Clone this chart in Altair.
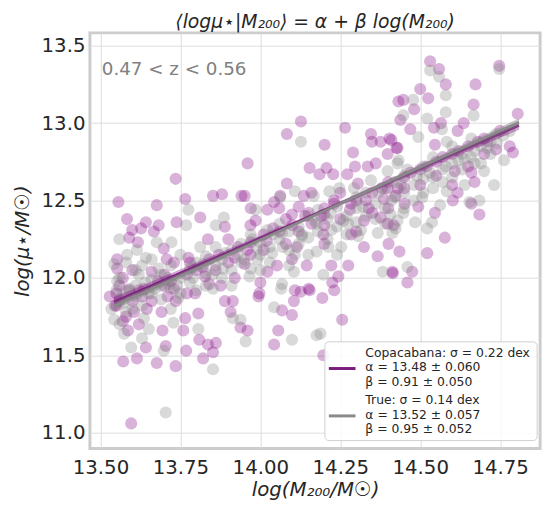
import altair as alt
import pandas as pd

# ---- scatter data ----
copa_pts = [
(13.556,12.49),(13.583,12.38),(13.596,11.06),(13.571,11.46),(13.614,11.48),(13.676,11.45),(13.735,11.43),(13.642,11.55),(13.704,11.56),(13.768,11.53),
(13.809,11.60),(13.821,11.48),(13.852,11.52),(13.836,11.57),(13.861,11.58),(13.759,11.66),(13.694,11.66),(13.586,11.66),(13.907,11.78),(13.938,11.68),
(13.994,11.88),(14.068,11.79),(14.099,11.76),(14.105,11.85),(14.126,11.91),(14.154,11.92),(14.194,11.87),(14.231,11.92),(14.256,11.73),(14.056,11.66),
(14.043,11.57),(14.197,11.50),(13.960,11.66),(14.685,12.41),(14.577,12.26),(14.522,12.16),(14.435,12.17),(14.414,12.03),(14.460,11.97),(14.475,12.04),
(14.401,12.22),(14.602,12.50),(14.660,12.48),(14.531,13.40),(14.559,13.35),(14.747,13.37),(14.580,13.25),(14.673,13.25),(14.500,13.22),(14.525,13.16),
(14.432,13.14),(14.447,13.15),(14.481,13.09),(14.667,13.12),(14.805,13.06),(14.636,13.00),(14.565,13.00),(14.438,13.02),(14.469,12.96),(14.543,12.97),
(14.617,12.95),(14.737,12.83),(14.790,12.81),(14.710,12.88),(14.410,12.89),(14.429,12.84),(14.546,12.86),(14.608,12.69),(14.660,12.68),(14.670,12.62),
(14.617,12.55),(14.546,12.42),(14.494,12.46),(14.451,12.48),(14.423,12.53),(14.398,12.58),(14.083,12.93),(14.201,12.86),(14.265,12.97),(14.127,13.01),
(13.960,12.74),(14.154,12.71),(14.207,12.71),(14.290,12.81),(14.296,12.72),(14.346,12.93),(14.349,12.88),(14.376,12.88),(14.404,12.90),(14.426,12.84),
(14.398,12.80),(14.361,12.74),(14.336,12.72),(14.185,12.67),(14.228,12.67),(14.272,12.67),(14.305,12.61),(14.083,12.61),(14.136,12.53),(14.062,12.53),
(14.043,12.49),(14.022,12.44),(13.951,12.53),(13.985,12.37),(13.969,12.34),(14.059,12.45),(14.099,12.41),(14.151,12.42),(14.200,12.41),(14.231,12.48),
(14.284,12.48),(14.339,12.45),(14.386,12.51),(14.417,12.34),(14.324,12.37),(14.376,12.39),(14.398,12.35),(14.284,12.28),(14.324,12.20),(14.367,12.14),
(14.413,12.04),(14.200,12.34),(14.197,12.28),(14.114,12.20),(14.099,12.12),(14.145,12.08),(14.222,12.08),(14.244,12.01),(14.275,12.08),(14.052,12.08),
(14.022,12.04),(14.000,11.97),(13.997,11.90),(13.969,12.15),(13.951,12.09),(14.108,11.92),(14.151,11.93),(14.225,11.97),(13.735,12.64),(13.676,12.47),
(13.765,12.51),(13.852,12.53),(13.880,12.54),(13.941,12.53),(13.642,12.36),(13.627,12.32),(13.599,12.31),(13.682,12.34),(13.667,12.30),(13.617,12.23),
(13.590,12.26),(13.738,12.36),(13.812,12.39),(13.836,12.25),(13.889,12.33),(13.698,12.19),(13.707,12.12),(13.775,12.13),(13.827,12.01),(13.876,11.95),
(13.920,12.00),(13.914,11.85),(13.889,11.85),(13.691,11.78),(13.645,11.80),(13.605,11.78),(13.580,11.75),(13.735,11.85),(13.765,11.74),(13.806,11.77),
(13.796,11.90),(13.710,11.88),(13.552,12.12),(13.552,12.06),(13.559,11.95),(13.529,11.88),(13.545,11.82),(13.636,11.93),
(13.55,11.90),(13.55,11.82),(13.57,12.00),(13.57,11.72),(13.60,11.85),(13.60,12.05),(13.62,11.92),(13.62,11.70),(13.66,12.04),(13.66,11.85),
(13.70,11.95),(13.70,12.02),(13.73,12.10),(13.73,11.93),(13.77,12.02),(13.77,11.90),(13.80,12.05),(13.84,12.12),(13.84,11.96),(13.87,12.15),
(13.90,12.10),(13.90,12.25),(13.93,12.20),(13.97,12.23),(13.97,12.45),(14.01,12.28),(14.01,12.18),(14.04,12.32),(14.08,12.38),(14.08,12.22),
(14.12,12.30),(14.12,12.46),(14.16,12.35),(14.16,12.55),(14.20,12.45),(14.20,12.22),(14.25,12.38),(14.25,12.55),(14.30,12.50),(14.30,12.30),
(14.35,12.55),(14.35,12.42),(14.40,12.62),(14.40,12.45),(14.45,12.65),(14.45,12.58),(14.50,12.70),(14.50,12.60),(14.55,12.75),(14.55,12.66),
(14.60,12.80),(14.60,12.60),(14.65,12.85),(14.65,12.72),(14.70,12.90),(14.70,12.80),(14.75,12.95),(14.78,12.85),
(13.56,11.86),(13.59,11.92),(13.63,11.88),(13.68,11.98),(13.72,11.98),(13.78,12.10),(13.82,12.07),(13.86,12.05),(13.92,12.13),(13.96,12.18),
(14.02,12.24),(14.06,12.30),(14.10,12.34),(14.14,12.40),(14.19,12.40),(14.23,12.50),(14.28,12.44),(14.33,12.50),(14.38,12.58),(14.43,12.58),
(14.47,12.68),(14.52,12.72),(14.57,12.78),(14.62,12.82),(14.68,12.88),
]

true_pts = [
(13.704,11.13),(13.852,11.41),(13.596,11.55),(13.574,11.64),(13.630,11.61),(13.651,11.67),(13.698,11.53),(13.938,11.73),(13.954,11.59),(14.043,11.81),
(14.099,11.60),(14.188,11.64),(14.065,11.93),(14.176,11.63),(14.460,12.07),(14.522,12.32),(14.531,13.34),(14.559,13.30),(14.580,13.18),(14.667,13.05),
(14.747,13.35),(14.580,13.07),(14.522,13.03),(14.447,13.05),(14.478,13.15),(14.494,12.91),(14.568,12.96),(14.583,12.88),(14.670,12.74),(14.639,12.77),
(14.540,12.65),(14.583,12.56),(14.506,12.52),(14.460,12.70),(14.432,12.76),(14.685,12.50),(14.737,12.93),(14.127,12.88),(13.985,12.44),(14.062,12.52),
(14.108,12.56),(14.167,12.53),(14.216,12.56),(14.247,12.58),(14.293,12.58),(14.346,12.63),(14.398,12.69),(14.429,12.74),(14.068,12.29),(14.022,12.31),
(13.975,12.25),(14.130,12.27),(14.176,12.35),(14.222,12.31),(14.275,12.35),(14.315,12.31),(14.367,12.29),(14.413,12.29),(14.429,12.37),(14.037,12.16),
(13.991,12.12),(14.108,12.15),(14.176,12.17),(14.213,12.20),(14.253,12.20),(14.306,12.27),(14.105,12.04),(14.197,12.02),(14.068,11.96),(14.383,12.04),
(13.966,12.01),(13.559,12.25),(13.775,12.44),(13.768,12.34),(13.886,12.39),(13.642,12.13),(13.614,12.18),(13.676,12.23),(13.722,12.23),(13.812,12.20),
(13.861,12.34),(13.543,12.09),(13.552,11.98),(13.565,11.87),(13.590,11.93),(13.620,12.02),(13.651,11.90),(13.583,12.15),(13.682,12.06),(13.713,11.96),
(13.744,11.87),(13.790,12.00),(13.821,12.09),(13.852,11.93),(13.883,12.06),(13.929,12.15),(13.914,11.74),(13.806,11.67),(13.728,11.71),(13.636,11.74),
(13.543,11.73),(13.534,11.80),(14.407,12.41),(14.447,12.42),(14.423,12.32),(14.484,12.36),(14.562,12.47),(14.537,12.36),(14.654,12.49),(14.700,12.69),
(14.731,12.60),(14.639,12.60),(14.762,12.76),
(13.56,11.85),(13.56,12.00),(13.56,11.70),(13.58,11.92),(13.58,12.10),(13.58,11.78),(13.61,11.88),(13.61,11.95),(13.61,12.05),(13.63,11.82),
(13.63,12.08),(13.66,11.90),(13.66,11.99),(13.66,12.12),(13.69,11.86),(13.69,12.02),(13.69,11.95),(13.72,11.93),(13.72,12.08),(13.72,11.80),
(13.75,12.00),(13.75,11.90),(13.75,12.15),(13.78,11.97),(13.78,12.06),(13.80,12.10),(13.80,11.92),(13.83,12.03),(13.83,12.14),(13.83,11.95),
(13.86,12.08),(13.86,12.20),(13.88,12.00),(13.88,12.12),(13.91,12.18),(13.91,12.05),(13.91,11.95),(13.94,12.10),(13.94,12.22),(13.97,12.06),
(13.97,12.28),(14.00,12.15),(14.00,12.23),(14.00,12.05),(14.03,12.20),(14.03,12.10),(14.06,12.25),(14.06,12.35),(14.09,12.18),(14.09,12.30),
(14.09,12.08),(14.12,12.33),(14.12,12.22),(14.15,12.26),(14.15,12.40),(14.15,12.15),(14.18,12.30),(14.18,12.44),(14.21,12.38),(14.21,12.25),
(14.24,12.33),(14.24,12.46),(14.24,12.15),(14.27,12.40),(14.27,12.28),(14.30,12.45),(14.30,12.36),(14.30,12.52),(14.33,12.40),(14.33,12.55),
(14.36,12.48),(14.36,12.38),(14.39,12.45),(14.39,12.58),(14.39,12.35),(14.42,12.52),(14.42,12.62),(14.45,12.55),(14.45,12.45),(14.45,12.66),
(14.48,12.60),(14.48,12.50),(14.51,12.64),(14.51,12.72),(14.51,12.55),(14.54,12.58),(14.54,12.78),(14.57,12.70),(14.57,12.62),(14.60,12.74),
(14.60,12.85),(14.60,12.65),(14.63,12.80),(14.63,12.70),(14.66,12.78),(14.66,12.90),(14.69,12.85),(14.69,12.74),(14.72,12.88),(14.72,12.80),
(14.76,12.92),
(13.55,11.92),(13.57,11.84),(13.60,11.80),(13.64,11.97),(13.67,11.93),(13.71,12.00),(13.74,11.95),(13.79,12.07),(13.85,12.02),(13.89,12.16),
(13.95,12.12),(13.99,12.19),(14.04,12.28),(14.07,12.20),(14.13,12.28),(14.17,12.37),(14.22,12.42),(14.26,12.37),(14.32,12.46),(14.37,12.55),
(14.41,12.50),(14.44,12.60),(14.49,12.66),(14.53,12.68),(14.58,12.72),(14.62,12.76),(14.67,12.82),(14.71,12.84),(14.74,12.87),(14.78,12.95),
]

# ---- fitted relations and their bands ----
fit_x = [13.543, 14.176, 14.809]
copa_fit = [11.845, 12.415, 12.985]
copa_lo = [11.815, 12.403, 12.957]
copa_hi = [11.875, 12.427, 13.013]
true_fit = [11.820, 12.410, 13.005]
true_lo = [11.795, 12.400, 12.980]
true_hi = [11.845, 12.420, 13.030]

x_ticks = [13.5, 13.75, 14.0, 14.25, 14.5, 14.75]
y_ticks = [11.0, 11.5, 12.0, 12.5, 13.0, 13.5]

legend_copa = ["Copacabana: σ = 0.22 dex", "α = 13.48 ± 0.060", "β = 0.91 ± 0.050"]
legend_true = ["True: σ = 0.14 dex", "α = 13.52 ± 0.057", "β = 0.95 ± 0.052"]

PURPLE = "#800080"
LINE_PURPLE = "#7a1c7c"
GRAY = "#808080"
LINE_GRAY = "#8a8a8a"
FONT = "DejaVu Sans"

copa_df = pd.DataFrame(copa_pts, columns=["x", "y"])
true_df = pd.DataFrame(true_pts, columns=["x", "y"])
fit_df = pd.DataFrame({"x": fit_x, "copa": copa_fit, "copa_lo": copa_lo, "copa_hi": copa_hi,
                       "true": true_fit, "true_lo": true_lo, "true_hi": true_hi})

xs = alt.Scale(domain=[13.467, 14.875], nice=False, zero=False)
ys = alt.Scale(domain=[10.898, 13.583], nice=False, zero=False)

X = alt.X("x:Q", scale=xs, axis=alt.Axis(values=x_ticks, format=".2f", title="log(M₂₀₀/M☉)"))
Y = alt.Y("y:Q", scale=ys, axis=alt.Axis(values=y_ticks, format=".1f", title="log(μ⋆/M☉)"))

copa_sc = alt.Chart(copa_df).mark_circle(size=150, opacity=0.3, color=PURPLE).encode(x=X, y=Y)
true_sc = alt.Chart(true_df).mark_circle(size=150, opacity=0.3, color=GRAY).encode(x=X, y=Y)

fx = alt.X("x:Q", scale=xs)
copa_band = alt.Chart(fit_df).mark_area(color=PURPLE, opacity=0.35).encode(
    x=fx, y=alt.Y("copa_lo:Q", scale=ys), y2="copa_hi:Q")
copa_line = alt.Chart(fit_df).mark_line(color=LINE_PURPLE, strokeWidth=2.5).encode(
    x=fx, y=alt.Y("copa:Q", scale=ys))
true_band = alt.Chart(fit_df).mark_area(color=GRAY, opacity=0.45).encode(
    x=fx, y=alt.Y("true_lo:Q", scale=ys), y2="true_hi:Q")
true_line = alt.Chart(fit_df).mark_line(color=LINE_GRAY, strokeWidth=2.5).encode(
    x=fx, y=alt.Y("true:Q", scale=ys))

one = alt.Data(values=[{"k": 0}])

zlabel = alt.Chart(one).mark_text(align="left", baseline="alphabetic", fontSize=18.5,
                                  font=FONT, color="#808080").encode(
    x=alt.value(12), y=alt.value(43), text=alt.value("0.47 < z < 0.56"))

box = alt.Chart(one).mark_rect(fill="white", fillOpacity=0.85, stroke="#cfcfcf",
                               strokeWidth=1, cornerRadius=4).encode(
    x=alt.value(238), x2=alt.value(453), y=alt.value(313), y2=alt.value(413))
leg_l1 = alt.Chart(one).mark_rule(color=LINE_PURPLE, strokeWidth=3).encode(
    x=alt.value(242), x2=alt.value(269), y=alt.value(340))
leg_l2 = alt.Chart(one).mark_rule(color=LINE_GRAY, strokeWidth=3).encode(
    x=alt.value(242), x2=alt.value(269), y=alt.value(388))
leg_t1 = alt.Chart(one).mark_text(align="left", baseline="alphabetic", fontSize=12.5,
                                  lineHeight=14.8, font=FONT, color="#262626").encode(
    x=alt.value(279), y=alt.value(328), text=alt.value(legend_copa))
leg_t2 = alt.Chart(one).mark_text(align="left", baseline="alphabetic", fontSize=12.5,
                                  lineHeight=14.8, font=FONT, color="#262626").encode(
    x=alt.value(279), y=alt.value(376), text=alt.value(legend_true))

chart = alt.layer(
    copa_sc, true_sc, copa_band, copa_line, true_band, true_line,
    zlabel, box, leg_l1, leg_l2, leg_t1, leg_t2,
).properties(
    width=456, height=421,
    title=alt.TitleParams("⟨logμ⋆|M₂₀₀⟩ = α + β log(M₂₀₀)", font=FONT, fontSize=19,
                          fontStyle="italic", fontWeight="normal", color="#262626",
                          anchor="middle", offset=1),
    autosize=alt.AutoSizeParams(type="none"),
    padding={"left": 83, "top": 22, "right": 8, "bottom": 50},
).configure_view(
    stroke="#cccccc", strokeWidth=3
).configure_axis(
    domain=False, ticks=False, grid=True, gridColor="#dcdcdc", gridWidth=1,
    labelFont=FONT, labelFontSize=20, labelColor="#262626",
    titleFont=FONT, titleFontSize=20, titleFontStyle="italic", titleFontWeight="normal",
    titleColor="#262626",
).configure_axisX(labelPadding=9, titlePadding=3
).configure_axisY(labelPadding=5, titlePadding=9)

chart.save("out.html", embed_options={"renderer": "svg", "actions": False})
